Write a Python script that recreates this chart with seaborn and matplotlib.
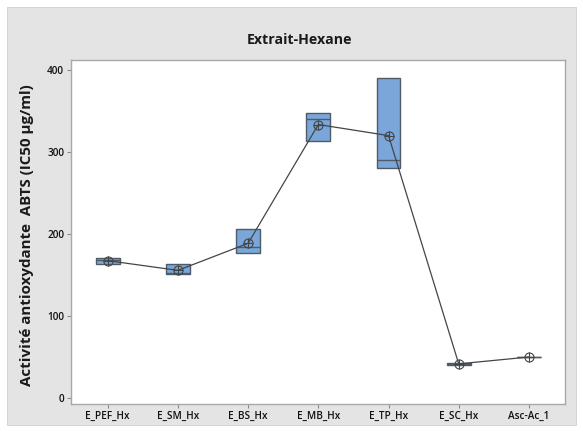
import numpy as np
import pandas as pd
import matplotlib
matplotlib.use("Agg")
import matplotlib.pyplot as plt
import seaborn as sns
from matplotlib.patches import Rectangle

# Three replicate IC50 measurements per extract (µg/ml)
groups = ["E_PEF_Hx", "E_SM_Hx", "E_BS_Hx", "E_MB_Hx", "E_TP_Hx", "E_SC_Hx", "Asc-Ac_1"]
rep1 = [164.0, 151.0, 176.5, 313.5, 280.0, 40.0, 49.5]
rep2 = [168.0, 153.0, 184.0, 340.0, 290.0, 42.0, 50.0]
rep3 = [170.5, 163.0, 205.5, 347.0, 390.0, 43.0, 50.5]
yticks = [0, 100, 200, 300, 400]

df = pd.DataFrame({"groupe": np.repeat(groups, 3),
                   "ic50": np.ravel(np.column_stack([rep1, rep2, rep3]))})


def quartile(vals, p):
    """Quartile using the (n+1)p positioning rule."""
    v = np.sort(np.asarray(vals, float))
    n = len(v)
    pos = p * (n + 1)
    lo = int(np.floor(pos))
    frac = pos - lo
    lo = min(max(lo, 1), n)
    hi = min(lo + 1, n)
    return v[lo - 1] + frac * (v[hi - 1] - v[lo - 1])


stats = []
means = []
for g in groups:
    vals = df.loc[df["groupe"] == g, "ic50"].values
    q1, med, q3 = quartile(vals, 0.25), np.median(vals), quartile(vals, 0.75)
    iqr = q3 - q1
    lo = vals[vals >= q1 - 1.5 * iqr].min()
    hi = vals[vals <= q3 + 1.5 * iqr].max()
    stats.append(dict(med=med, q1=q1, q3=q3, whislo=lo, whishi=hi, fliers=[]))
    means.append(vals.mean())

sns.set_style("white")
plt.rcParams["font.family"] = ["Open Sans", "DejaVu Sans"]

W, H = 583, 432
fig = plt.figure(figsize=(W / 100, H / 100), dpi=100)
fig.patch.set_facecolor("white")

# Grey panel behind the plotting area
bg = fig.add_axes([0, 0, 1, 1], zorder=-10)
bg.set_axis_off()
bg.set_xlim(0, W)
bg.set_ylim(H, 0)
bg.add_patch(Rectangle((7, 7), 576 - 7, 425 - 7, facecolor="#E4E4E4",
                       edgecolor="#D0D0D0", linewidth=0.6))

ax = fig.add_axes([71 / W, 1 - 404 / H, (565 - 71) / W, (404 - 60) / H], zorder=1)
ax.set_facecolor("white")

pos = np.arange(len(groups))
box_edge = "#4F5B66"
ax.bxp(stats, positions=pos, widths=0.337, patch_artist=True,
       showcaps=False, showfliers=False,
       boxprops=dict(facecolor="#7AA6DA", edgecolor=box_edge, linewidth=1.0),
       medianprops=dict(color=box_edge, linewidth=1.0),
       whiskerprops=dict(color=box_edge, linewidth=1.0))

mean_df = pd.DataFrame({"pos": pos, "moyenne": means})
sns.lineplot(data=mean_df, x="pos", y="moyenne", ax=ax, color="#454545",
             linewidth=0.9, marker="o", markersize=6.5, markerfacecolor="none",
             markeredgecolor="#454545", markeredgewidth=0.8, zorder=4)
ax.plot(mean_df["pos"], mean_df["moyenne"], linestyle="none", marker="+",
        markersize=6.5, color="#454545", markeredgewidth=0.8, zorder=5)

ax.set_xlim(-0.523, 6.514)
ax.set_ylim(-7.3, 412.2)
ax.set_xticks(pos)
ax.set_xticklabels(groups, fontsize=7.2, fontweight="semibold", color="#111111")
ax.set_yticks(yticks)
ax.set_yticklabels([str(t) for t in yticks], fontsize=7.2, fontweight="semibold",
                   color="#111111")
ax.tick_params(axis="both", direction="out", length=3, width=0.8, color="#8A8A8A", pad=2)
ax.tick_params(left=True, bottom=True)
for s in ax.spines.values():
    s.set_color("#A8A8A8")
    s.set_linewidth(1.0)
ax.set_xlabel("")
ax.set_ylabel("")

fig.text(300 / W, 1 - 40 / H, "Extrait-Hexane", ha="center", va="center",
         fontsize=10.2, fontweight="bold", color="#1a1a1a")
fig.text(27 / W, 1 - 235 / H, "Activité antioxydante  ABTS (IC50 µg/ml)",
         ha="center", va="center", rotation=90, fontsize=10.9,
         fontweight="bold", color="#1a1a1a")

fig.savefig("out.png", dpi=100)
